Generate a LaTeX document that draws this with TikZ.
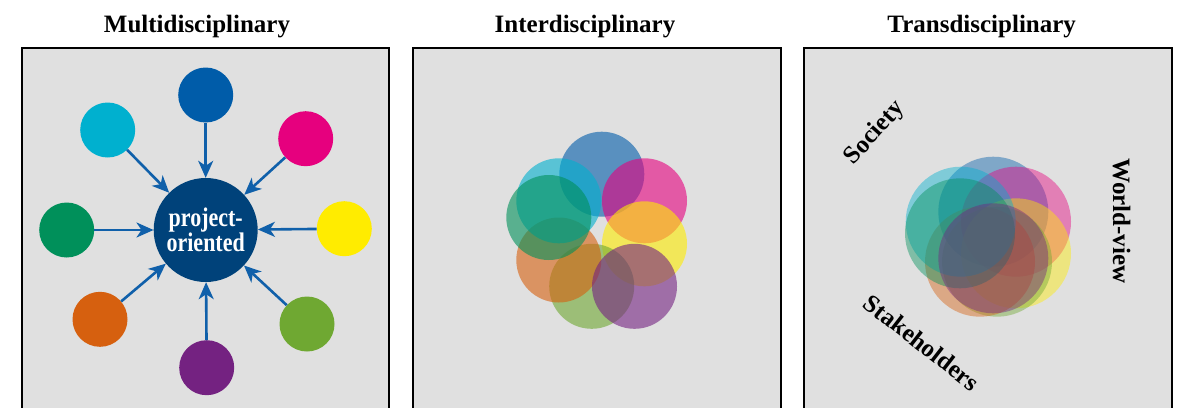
\documentclass[tikz,border=0pt]{standalone}
\usepackage{fontspec}
\usepackage{graphicx}
\setmainfont{Liberation Serif}
\usetikzlibrary{arrows.meta}
\definecolor{panelbg}{RGB}{224,224,224}
\definecolor{cblue}{RGB}{0,92,169}
\definecolor{ccyan}{RGB}{0,176,207}
\definecolor{cmag}{RGB}{230,0,126}
\definecolor{cdgreen}{RGB}{0,144,90}
\definecolor{cyel}{RGB}{255,236,0}
\definecolor{corange}{RGB}{214,96,15}
\definecolor{clgreen}{RGB}{111,168,50}
\definecolor{cpurple}{RGB}{116,34,129}
\definecolor{cnavy}{RGB}{0,66,122}
\definecolor{carrow}{RGB}{16,96,170}
\newcommand{\tallword}[1]{\scalebox{1}[1.22]{#1}}
\tikzset{
  panel/.style={draw=black, line width=2.4pt, fill=panelbg},
  title/.style={font=\bfseries\fontsize{25}{30}\selectfont, anchor=base, inner sep=0},
  disc/.style={circle, inner sep=0, minimum size=55pt, fill=#1},
  hub/.style={circle, inner sep=0, minimum size=104pt, fill=cnavy, text=white, align=center,
    font=\bfseries\fontsize{22}{24}\selectfont},
  arr/.style={draw=carrow, line width=2.6pt, -{Stealth[length=17pt,width=15pt,inset=5pt]}},
  idisc/.style={circle, inner sep=0, minimum size=85pt, fill=#1, fill opacity=0.6},
  tdisc/.style={circle, inner sep=0, minimum size=110pt, fill=#1, fill opacity=0.43},
  lab/.style={font=\bfseries\fontsize{25}{30}\selectfont, inner sep=0},
}
\begin{document}
\begin{tikzpicture}[x=1pt,y=-1pt]
\useasboundingbox (0,0) rectangle (1182,407);
\clip (0,0) rectangle (1182,407);
% panels
\draw[panel] (22,48) rectangle (389,430);
\draw[panel] (412.7,48) rectangle (780.7,430);
\draw[panel] (804,48) rectangle (1171.7,430);
% titles
\node[title] (t1) at (197,32) {Multidisciplinary};
\node[title] (t2) at (585,32) {Interdisciplinary};
\node[title] (t3) at (981.7,32) {Transdisciplinary};
% panel 1
\node[hub] (hub) at (205.7,230) {\tallword{project-}\\\tallword{oriented}};
\node[disc=cblue] (m1) at (205.7,95) {};
\node[disc=ccyan] (m2) at (107.7,130) {};
\node[disc=cmag] (m3) at (305.7,138.7) {};
\node[disc=cdgreen] (m4) at (66.7,230) {};
\node[disc=cyel] (m5) at (344.3,228.7) {};
\node[disc=corange] (m6) at (100,319.3) {};
\node[disc=clgreen] (m7) at (307,324) {};
\node[disc=cpurple] (m8) at (206.7,367.7) {};
\foreach \n in {m1,m2,m3,m4,m5,m6,m7,m8} \draw[arr] (\n) -- (hub);
% panel 2
\node[idisc=cblue] (i1) at (601.8,174.2) {};
\node[idisc=cmag] (i2) at (644.5,200.8) {};
\node[idisc=cyel] (i3) at (644.5,243.8) {};
\node[idisc=clgreen] (i4) at (591.7,286.3) {};
\node[idisc=corange] (i6) at (558.8,260) {};
\node[idisc=ccyan] (i7) at (558.8,200.8) {};
\node[idisc=cdgreen] (i8) at (548.8,217.5) {};
\node[idisc=cpurple] (i5) at (634.5,286.3) {};
% panel 3
\node[tdisc=cblue] (r1) at (993.3,211.7) {};
\node[tdisc=cmag] (r2) at (1016,221.7) {};
\node[tdisc=cyel] (r3) at (1016,253.3) {};
\node[tdisc=clgreen] (r4) at (997,261.7) {};
\node[tdisc=corange] (r6) at (980,261.7) {};
\node[tdisc=ccyan] (r7) at (960.7,221.7) {};
\node[tdisc=cdgreen] (r8) at (960,233.3) {};
\node[tdisc=cpurple] (r5) at (993.3,258.3) {};
\node[lab, rotate=48] (soc) at (875,133) {Society};
\node[lab, rotate=-90] (wv) at (1121.7,221) {World-view};
\node[lab, rotate=-38] (stk) at (921.7,342.5) {Stakeholders};
\end{tikzpicture}
\end{document}
